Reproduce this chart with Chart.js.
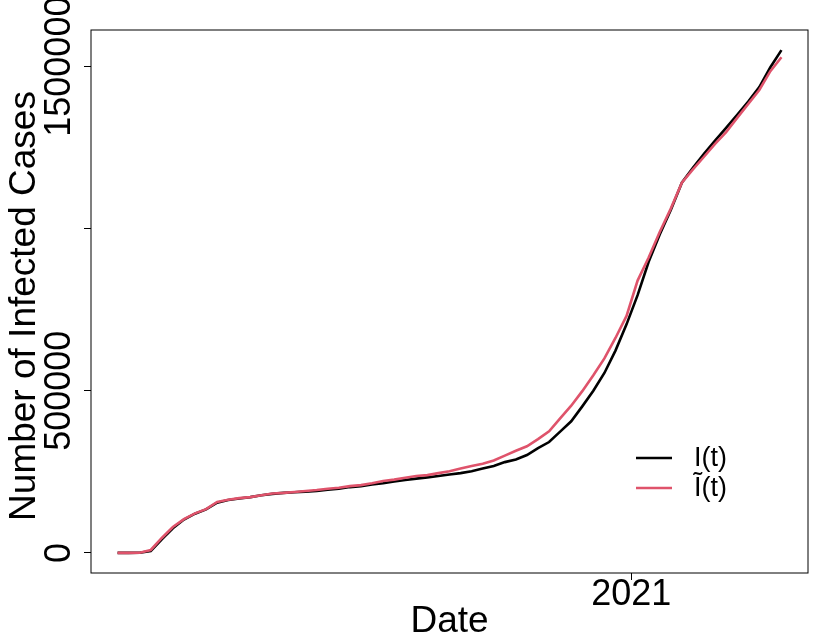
<!DOCTYPE html>
<html>
<head>
<meta charset="utf-8">
<script src="https://cdn.jsdelivr.net/npm/chart.js@4.4.1/dist/chart.umd.min.js"></script>
<style>
  html, body { margin: 0; padding: 0; background: #fff; }
  #wrap { width: 830px; height: 642px; }
</style>
</head>
<body>
<div id="wrap"><canvas id="c" width="830" height="642"></canvas></div>
<script>
const dates = [
  "2020-02-11","2020-02-18","2020-02-25","2020-03-03","2020-03-10","2020-03-17","2020-03-24","2020-03-31",
  "2020-04-07","2020-04-14","2020-04-21","2020-04-28","2020-05-05","2020-05-12","2020-05-19","2020-05-26",
  "2020-06-02","2020-06-09","2020-06-16","2020-06-23","2020-06-30","2020-07-07","2020-07-14","2020-07-21",
  "2020-07-28","2020-08-04","2020-08-11","2020-08-18","2020-08-25","2020-09-01","2020-09-08","2020-09-15",
  "2020-09-22","2020-09-29","2020-10-06","2020-10-13","2020-10-20","2020-10-27","2020-11-03","2020-11-10",
  "2020-11-17","2020-11-24","2020-12-01","2020-12-08","2020-12-15","2020-12-22","2020-12-29","2021-01-05",
  "2021-01-12","2021-01-19","2021-01-26","2021-02-02","2021-02-09","2021-02-16","2021-02-23","2021-03-02",
  "2021-03-09","2021-03-16","2021-03-23","2021-03-30","2021-04-06"
];
const infected = [
  0, 0, 300, 6000, 42000, 76000, 103000, 121000,
  134000, 155000, 163000, 168000, 172000, 178000, 182000, 185000,
  187000, 189000, 191000, 195000, 198000, 203000, 206000, 211000,
  215000, 220000, 225000, 229000, 233000, 237000, 242000, 246000,
  252000, 260000, 268000, 280000, 288000, 302000, 323000, 342000,
  374000, 406000, 452000, 500000, 555000, 624000, 705000, 795000,
  898000, 982000, 1058000, 1142000, 1188000, 1231000, 1272000, 1311000,
  1351000, 1392000, 1437000, 1498000, 1551000
];
const estimated = [
  0, 0, 500, 9000, 46000, 80000, 104000, 122000,
  135000, 157000, 164000, 169000, 172000, 178000, 183000, 185000,
  188000, 191000, 194000, 198000, 201000, 206000, 209000, 215000,
  222000, 226000, 232000, 237000, 240000, 246000, 252000, 260000,
  268000, 275000, 285000, 300000, 315000, 329000, 351000, 375000,
  415000, 454000, 499000, 548000, 600000, 663000, 731000, 840000,
  911000, 990000, 1062000, 1142000, 1183000, 1222000, 1262000, 1298000,
  1342000, 1385000, 1428000, 1486000, 1529000
];
const xTickDates = ["2021-01-01"];
const xTickLabels = ["2021"];
const yTicks = [0, 500000, 1000000, 1500000];
const yTickLabels = ["0", "500000", "", "1500000"];
const seriesLabels = ["I(t)", "\u0128(t)"];
const xTitle = "Date";
const yTitle = "Number of Infected Cases";

const DAY = 86400000;
const t0 = Date.parse(dates[0]);
const toDay = d => (Date.parse(d) - t0) / DAY;
const xs = dates.map(toDay);
const xSpan = xs[xs.length - 1] - xs[0];
const allVals = infected.concat(estimated);
const yLo = Math.min(...allVals), yHi = Math.max(...allVals);
const ySpan = yHi - yLo;

const FONT = '"Liberation Sans", Arial, Helvetica, sans-serif';
const BLACK = '#000000';
const RED = '#DF536B';

const decor = {
  id: 'decor',
  afterDraw(chart) {
    const ctx = chart.ctx;
    const a = chart.chartArea;
    const sx = chart.scales.x, sy = chart.scales.y;
    ctx.save();
    // full box (1px line on pixel boundary -> soft grey like the reference)
    ctx.strokeStyle = '#000';
    ctx.lineWidth = 1;
    ctx.strokeRect(Math.round(a.left), Math.round(a.top),
                   Math.round(a.right - a.left), Math.round(a.bottom - a.top));
    ctx.fillStyle = '#000';
    // x tick labels
    ctx.font = '36px ' + FONT;
    ctx.textAlign = 'center';
    ctx.textBaseline = 'alphabetic';
    xTickDates.forEach((d, i) => {
      ctx.fillText(xTickLabels[i], sx.getPixelForValue(toDay(d)), 605);
    });
    // x title
    ctx.font = '37px ' + FONT;
    ctx.fillText(xTitle, (a.left + a.right) / 2, 632);
    // y tick labels (rotated)
    ctx.font = '36px ' + FONT;
    yTicks.forEach((v, i) => {
      if (!yTickLabels[i]) return;
      const py = sy.getPixelForValue(v);
      ctx.save();
      ctx.translate(70, py);
      ctx.rotate(-Math.PI / 2);
      ctx.textAlign = 'center';
      ctx.fillText(yTickLabels[i], 0, 0);
      ctx.restore();
    });
    // y title
    ctx.font = '37px ' + FONT;
    ctx.save();
    ctx.translate(35, 306);
    ctx.rotate(-Math.PI / 2);
    ctx.textAlign = 'center';
    ctx.fillText(yTitle, 0, 0);
    ctx.restore();
    // legend
    const cols = [BLACK, RED];
    const ly = [458, 488];
    ctx.font = '27px ' + FONT;
    ctx.textAlign = 'left';
    ctx.textBaseline = 'middle';
    cols.forEach((c, i) => {
      ctx.strokeStyle = c;
      ctx.lineWidth = 2.5;
      ctx.beginPath();
      ctx.moveTo(636, ly[i]);
      ctx.lineTo(672, ly[i]);
      ctx.stroke();
      ctx.fillStyle = '#000';
      ctx.fillText(seriesLabels[i], 694, ly[i] + 1);
    });
    ctx.restore();
  }
};

new Chart(document.getElementById('c'), {
  type: 'line',
  data: {
    datasets: [
      {
        label: seriesLabels[1],
        data: xs.map((x, i) => ({ x: x, y: estimated[i] })),
        borderColor: RED, borderWidth: 2.6, pointRadius: 0, tension: 0, fill: false, order: 0
      },
      {
        label: seriesLabels[0],
        data: xs.map((x, i) => ({ x: x, y: infected[i] })),
        borderColor: BLACK, borderWidth: 2.6, pointRadius: 0, tension: 0, fill: false, order: 1
      }
    ]
  },
  options: {
    responsive: false,
    animation: false,
    events: [],
    layout: { padding: { left: 84, top: 30, right: 22, bottom: 62 } },
    plugins: { legend: { display: false }, tooltip: { enabled: false } },
    scales: {
      x: {
        type: 'linear',
        min: xs[0] - 0.04 * xSpan,
        max: xs[xs.length - 1] + 0.04 * xSpan,
        afterBuildTicks: s => { s.ticks = xTickDates.map(d => ({ value: toDay(d) })); },
        afterFit: s => { s.height = 7; },
        ticks: { display: false },
        grid: { display: true, drawOnChartArea: false, drawTicks: true, tickLength: 7, color: '#000', lineWidth: 1 },
        border: { display: false }
      },
      y: {
        type: 'linear',
        min: yLo - 0.04 * ySpan,
        max: yHi + 0.04 * ySpan,
        afterBuildTicks: s => { s.ticks = yTicks.map(v => ({ value: v })); },
        afterFit: s => { s.width = 7; },
        ticks: { display: false },
        grid: { display: true, drawOnChartArea: false, drawTicks: true, tickLength: 7, color: '#000', lineWidth: 1 },
        border: { display: false }
      }
    }
  },
  plugins: [decor]
});
</script>
</body>
</html>
